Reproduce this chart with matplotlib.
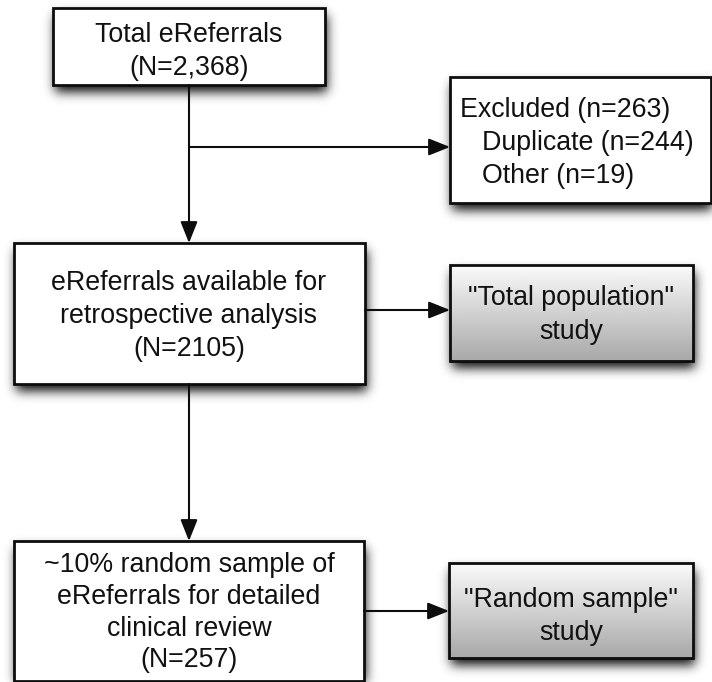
import numpy as np
import matplotlib
matplotlib.use("Agg")
import matplotlib.pyplot as plt
from matplotlib.patches import Rectangle, FancyArrowPatch

W, H = 712, 682
plt.rcParams["font.family"] = ["Liberation Sans", "DejaVu Sans"]
FS = 19.3

# box texts
total_lines = ["Total eReferrals", "(N=2,368)"]
excluded_lines = ["Excluded (n=263)", "Duplicate (n=244)", "Other (n=19)"]
excluded_indent = [False, True, True]
available_lines = ["eReferrals available for", "retrospective analysis", "(N=2105)"]
total_pop_lines = ['"Total population"', "study"]
sample_lines = ["~10% random sample of", "eReferrals for detailed",
                "clinical review", "(N=257)"]
random_study_lines = ['"Random sample"', "study"]

# layout in pixels (x0, y0, x1, y1), y grows downward
B_TOTAL = (53, 8, 325, 85)
B_EXCL = (450, 77, 711, 203)
B_AVAIL = (14, 243, 365, 384)
B_POP = (450, 265, 693, 361)
B_SAMPLE = (14, 541, 364, 681)
B_RAND = (449, 563, 693, 658)

fig = plt.figure(figsize=(W / 100, H / 100), dpi=100)
ax = fig.add_axes([0, 0, 1, 1])
ax.set_xlim(0, W); ax.set_ylim(H, 0); ax.axis("off")

# --- soft drop shadows, blurred with numpy ---
boxes = [B_TOTAL, B_EXCL, B_AVAIL, B_POP, B_SAMPLE, B_RAND]
mask = np.zeros((H, W))
dx, dy = 2, 7
for x0, y0, x1, y1 in boxes:
    mask[max(y0 + dy, 0):min(y1 + dy, H), max(x0 + dx, 0):min(x1 + dx, W)] = 1.0
sig = 5.5
k = np.exp(-0.5 * (np.arange(-18, 19) / sig) ** 2); k /= k.sum()
blur = np.apply_along_axis(lambda r: np.convolve(r, k, mode="same"), 1, mask)
blur = np.apply_along_axis(lambda c: np.convolve(c, k, mode="same"), 0, blur)
shadow = np.zeros((H, W, 4)); shadow[..., :3] = 0.08
shadow[..., 3] = np.clip(blur * 1.15, 0, 1) * 0.9
ax.imshow(shadow, extent=(0, W, H, 0), zorder=1, interpolation="bilinear")


def box(b, gradient=False):
    x0, y0, x1, y1 = b
    if gradient:
        g = np.linspace(0.98, 0.66, 100)[:, None]
        ax.imshow(np.repeat(g, 2, axis=1), cmap="gray", vmin=0, vmax=1,
                  extent=(x0, x1, y1, y0), aspect="auto", zorder=2)
    else:
        ax.add_patch(Rectangle((x0, y0), x1 - x0, y1 - y0, fc="white", ec="none", zorder=2))
    ax.add_patch(Rectangle((x0, y0), x1 - x0, y1 - y0, fc="none", ec="#0d0d0d",
                           lw=2.0, zorder=4))


def lines(txts, xc, baselines, ha="center"):
    for t, yb in zip(txts, baselines):
        ax.text(xc, yb, t, ha=ha, va="baseline", fontsize=FS, color="#111111", zorder=5)


def arrow(p, q):
    ax.add_patch(FancyArrowPatch(p, q, arrowstyle="-|>,head_length=13,head_width=5.2",
                                 mutation_scale=1, lw=1.5, color="#0d0d0d",
                                 shrinkA=0, shrinkB=0, zorder=3))


for b in [B_TOTAL, B_EXCL, B_AVAIL, B_SAMPLE]:
    box(b)
for b in [B_POP, B_RAND]:
    box(b, gradient=True)

lines(total_lines, 189, [42, 75])
for t, ind, yb in zip(excluded_lines, excluded_indent, [117, 150, 183]):
    ax.text(482 if ind else 460, yb, t, ha="left", va="baseline", fontsize=FS,
            color="#111111", zorder=5)
lines(available_lines, 189, [290, 323, 356])
lines(total_pop_lines, 571, [305, 339])
lines(sample_lines, 189, [572, 604, 636, 667])
lines(random_study_lines, 571, [607, 640])

# connectors
arrow((189, 85), (189, 243))
arrow((189, 147), (450, 147))
arrow((365, 310), (450, 310))
arrow((189, 384), (189, 541))
arrow((364, 611), (449, 611))

fig.savefig("out.png", dpi=100)
